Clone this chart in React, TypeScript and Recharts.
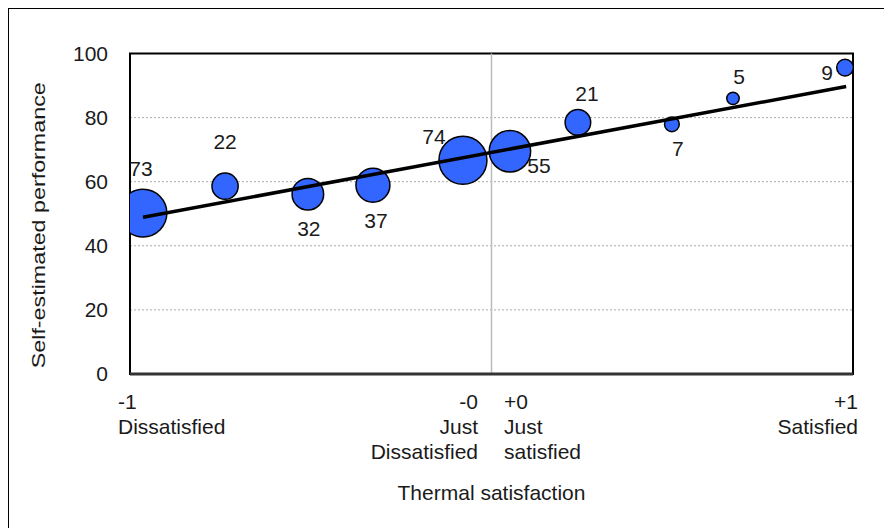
import React from 'react';
import {
  ComposedChart,
  Scatter,
  XAxis,
  YAxis,
  ZAxis,
  CartesianGrid,
  ReferenceLine,
  ReferenceArea,
  LabelList,
  Label,
} from 'recharts';

// thermal satisfaction bins (x), self-estimated performance (y), number of votes (n)
const satisfaction = [-0.964, -0.737, -0.508, -0.328, -0.079, 0.051, 0.239, 0.499, 0.668, 0.978];
const performance = [50.2, 58.6, 56.1, 58.9, 66.7, 69.5, 78.5, 77.9, 86.0, 95.6];
const votes = [73, 22, 32, 37, 74, 55, 21, 7, 5, 9];

// regression line end points
const trendX = [-0.964, 0.981];
const trendY = [48.9, 89.7];

const yTicks = [0, 20, 40, 60, 80, 100];
const xTicks = [-1, 0, 1];
const minLabel = ['-1', 'Dissatisfied'];
const zeroLeftLabel = ['-0', 'Just', 'Dissatisfied'];
const zeroRightLabel = ['+0', 'Just', 'satisfied'];
const maxLabel = ['+1', 'Satisfied'];
const yTitle = 'Self-estimated performance';
const xTitle = 'Thermal satisfaction';

const bubbles = satisfaction.map((x, i) => ({ x, y: performance[i], n: votes[i] }));
const trend = trendX.map((x, i) => ({ x, y: trendY[i] }));

// where each count label sits around its bubble
const labelOffsets: [number, number][] = [
  [-2, -45], [0, -45], [1, 34], [3, 35], [-29, -24],
  [29, 14], [9, -29], [6, 24], [6, -22], [-18, 5],
];

const FONT = '"Liberation Sans", Arial, sans-serif';
const TEXT = '#1a1a1a';
const FS = 21;

const lines = (items: string[], x: number, y: number, anchor: 'start' | 'end') => (
  <text x={x} y={y} textAnchor={anchor} fill={TEXT} fontSize={FS} fontFamily={FONT}>
    {items.map((s, i) => (
      <tspan key={i} x={x} dy={i === 0 ? 0 : 25}>
        {s}
      </tspan>
    ))}
  </text>
);

const XTick = (props: any) => {
  const { x, y, payload } = props;
  const base = y + 35;
  if (payload.value === -1) return lines(minLabel, x - 12, base, 'start');
  if (payload.value === 1) return lines(maxLabel, x + 5, base, 'end');
  return (
    <g>
      {lines(zeroLeftLabel, x - 13.5, base, 'end')}
      {lines(zeroRightLabel, x + 12.5, base, 'start')}
    </g>
  );
};

const YTitle = (props: any) => {
  const vb = props.viewBox;
  const cx = vb.x + vb.width / 2 - 24.5;
  const cy = vb.y + vb.height / 2 + 11.5;
  return (
    <text
      x={cx}
      y={cy}
      transform={`rotate(-90, ${cx}, ${cy})`}
      textAnchor="middle"
      textLength={286}
      lengthAdjust="spacingAndGlyphs"
      fontSize={19}
      fontFamily={FONT}
      fill={TEXT}
    >
      {yTitle}
    </text>
  );
};

const CountLabel = (props: any) => {
  const vb = props.viewBox && props.viewBox.width != null ? props.viewBox : props;
  const cx = vb.x + vb.width / 2;
  const cy = vb.y + vb.height / 2;
  const [dx, dy] = labelOffsets[props.index] || [0, -30];
  return (
    <text
      x={cx + dx}
      y={cy + dy}
      textAnchor="middle"
      dominantBaseline="central"
      fontSize={FS}
      fontFamily={FONT}
      fill={TEXT}
    >
      {props.value}
    </text>
  );
};

export default function App() {
  return (
    <div style={{ width: 885, height: 521, marginLeft: -1, marginTop: -1, overflow: 'hidden' }}>
      <div
        style={{
          width: 883,
          height: 519,
          borderTop: '2px solid #000',
          borderLeft: '2px solid #000',
          fontFamily: FONT,
          background: '#fff',
        }}
      >
        <ComposedChart
          width={880}
          height={512}
          margin={{ top: 44.5, right: 36, left: 0, bottom: 0 }}
        >
          <CartesianGrid vertical={false} stroke="#aaa" strokeDasharray="2 2" />
          <XAxis
            type="number"
            dataKey="x"
            domain={[-1, 1]}
            allowDataOverflow
            ticks={xTicks}
            interval={0}
            height={147}
            tickLine={false}
            tickSize={0}
            tickMargin={0}
            axisLine={{ stroke: '#333', strokeWidth: 3 }}
            tick={<XTick />}
          >
            <Label value={xTitle} position="insideBottom" offset={21} fontSize={FS} fill={TEXT} />
          </XAxis>
          <YAxis
            type="number"
            dataKey="y"
            domain={[0, 100]}
            allowDataOverflow
            ticks={yTicks}
            width={121}
            axisLine={false}
            tickLine={false}
            tickMargin={16}
            tick={{ fill: TEXT, fontSize: FS }}
          >
            <Label content={<YTitle />} />
          </YAxis>
          <ZAxis type="number" dataKey="n" domain={[0, 74]} range={[0, 1810]} />
          <ReferenceLine x={0} stroke="#bbb" strokeWidth={1.5} />
          <ReferenceArea x1={-1} x2={1} y1={0} y2={100} fill="none" stroke="#000" strokeWidth={2} />
          <Scatter
            data={bubbles}
            fill="#3366ff"
            stroke="#000"
            strokeWidth={1.5}
            isAnimationActive={false}
          >
            <LabelList dataKey="n" content={<CountLabel />} />
          </Scatter>
          <Scatter
            data={trend}
            line={{ stroke: '#000', strokeWidth: 3.5 }}
            shape={() => <g />}
            isAnimationActive={false}
          />
        </ComposedChart>
      </div>
    </div>
  );
}
